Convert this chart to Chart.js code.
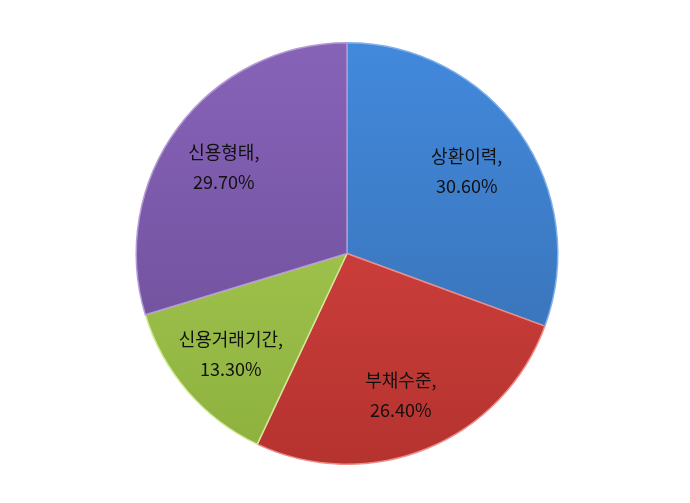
<!DOCTYPE html>
<html>
<head>
<meta charset="utf-8">
<script src="https://cdn.jsdelivr.net/npm/chart.js@4/dist/chart.umd.min.js"></script>
<style>
html,body{margin:0;padding:0;background:#fff;}
#wrap{width:690px;height:503px;position:relative;}
</style>
</head>
<body>
<div id="wrap"><canvas id="c" width="690" height="503"></canvas></div>
<script>
const categories = ['상환이력', '부채수준', '신용거래기간', '신용형태'];
const values = [30.6, 26.4, 13.3, 29.7];
const topColors = ['#4289dc', '#de4744', '#acd257', '#8763b8'];
const bottomColors = ['#376dae', '#b5332f', '#8db03e', '#6a4b95'];
const edgeColors = ['#7fb0ea', '#ee8c8a', '#d2ea98', '#b39ad4'];

function grad(ctx, i) {
  const chart = ctx.chart;
  const a = chart.chartArea;
  if (!a) return topColors[i];
  const g = chart.ctx.createLinearGradient(0, a.top, 0, a.bottom);
  g.addColorStop(0, topColors[i]);
  g.addColorStop(1, bottomColors[i]);
  return g;
}

const labelPlugin = {
  id: 'sliceLabels',
  afterDatasetsDraw(chart) {
    const ctx = chart.ctx;
    const meta = chart.getDatasetMeta(0);
    ctx.save();
    ctx.font = '18px "Noto Sans CJK KR", "Noto Sans", sans-serif';
    ctx.fillStyle = '#111111';
    ctx.textAlign = 'center';
    ctx.textBaseline = 'middle';
    meta.data.forEach((arc, i) => {
      const p = arc.getProps(['x', 'y', 'startAngle', 'endAngle', 'outerRadius'], true);
      const mid = (p.startAngle + p.endAngle) / 2;
      const r = p.outerRadius * 0.71;
      const cx = p.x + Math.cos(mid) * r - 3;
      const cy = p.y + Math.sin(mid) * r + 3;
      ctx.fillText(categories[i] + ',', cx, cy - 15);
      ctx.fillText(values[i].toFixed(2) + '%', cx, cy + 15);
    });
    ctx.restore();
  }
};

new Chart(document.getElementById('c'), {
  type: 'pie',
  data: {
    labels: categories,
    datasets: [{
      data: values,
      backgroundColor: (ctx) => grad(ctx, ctx.dataIndex),
      borderColor: edgeColors,
      borderWidth: 1.5
    }]
  },
  options: {
    responsive: false,
    animation: false,
    layout: { padding: { top: 42, bottom: 38, left: 4, right: 0 } },
    plugins: {
      legend: { display: false },
      tooltip: { enabled: false }
    }
  },
  plugins: [labelPlugin]
});
</script>
</body>
</html>
